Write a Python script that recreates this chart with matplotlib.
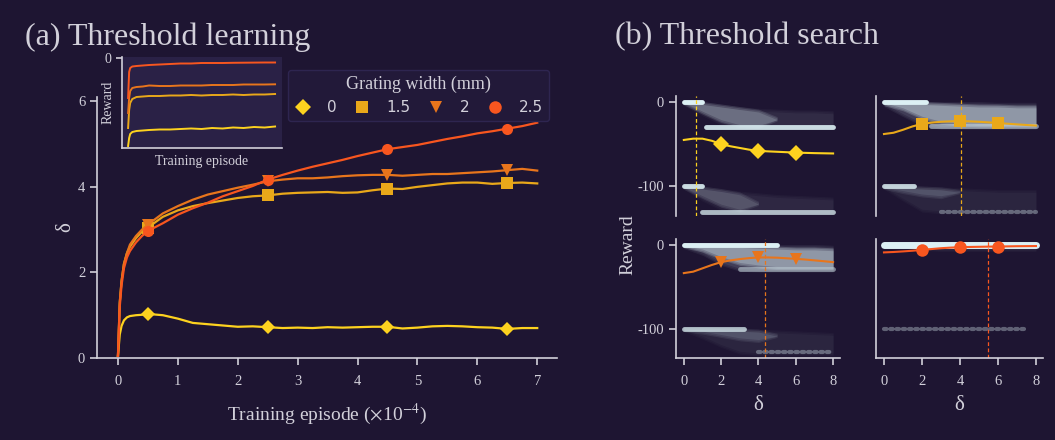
import matplotlib
matplotlib.use("Agg")
import numpy as np
import matplotlib.pyplot as plt
from matplotlib.lines import Line2D

plt.rcParams['font.family'] = ['Liberation Serif', 'DejaVu Serif']
plt.rcParams['mathtext.fontset'] = 'stix'
plt.rcParams['axes.unicode_minus'] = False

BG = '#1e1532'
INSET_BG = '#2a2146'
FG = '#d2d0da'
CLOUD = '#dcf0f4'

WIDTHS = ['0', '1.5', '2', '2.5']
COLORS = ['#fdd21f', '#e9a81a', '#e8751c', '#f8561f']
MARKERS = ['D', 's', 'v', 'o']

# (a) threshold learning: delta vs training episode (x1e4)
EPISODE = [0, 0.03, 0.06, 0.1, 0.15, 0.2, 0.3, 0.4, 0.5, 0.75, 1.0, 1.25, 1.5, 1.75,
           2.0, 2.25, 2.5, 2.75, 3.0, 3.25, 3.5, 3.75, 4.0, 4.25, 4.5, 4.75, 5.0,
           5.25, 5.5, 5.75, 6.0, 6.25, 6.5, 6.75, 7.0]
DELTA_0 = [0.05, 0.55, 0.75, 0.88, 0.95, 0.98, 1.0, 1.01, 1.03, 1.0, 0.92, 0.82, 0.79,
           0.76, 0.73, 0.74, 0.72, 0.70, 0.71, 0.70, 0.72, 0.71, 0.72, 0.73, 0.73, 0.69,
           0.71, 0.74, 0.75, 0.74, 0.72, 0.71, 0.68, 0.70, 0.70]
DELTA_15 = [0.05, 1.3, 1.8, 2.2, 2.45, 2.6, 2.8, 2.95, 3.05, 3.3, 3.45, 3.55, 3.62, 3.68,
            3.74, 3.78, 3.80, 3.84, 3.86, 3.87, 3.88, 3.86, 3.87, 3.92, 3.96, 3.95, 4.0,
            4.04, 4.08, 4.1, 4.1, 4.07, 4.09, 4.1, 4.08]
DELTA_2 = [0.05, 1.3, 1.8, 2.2, 2.45, 2.65, 2.85, 3.0, 3.12, 3.38, 3.55, 3.7, 3.82, 3.9,
           3.98, 4.05, 4.13, 4.17, 4.2, 4.2, 4.22, 4.25, 4.27, 4.28, 4.28, 4.26, 4.28,
           4.3, 4.3, 4.32, 4.34, 4.36, 4.39, 4.42, 4.38]
DELTA_25 = [0.05, 1.2, 1.7, 2.1, 2.35, 2.5, 2.7, 2.85, 2.97, 3.15, 3.35, 3.5, 3.63, 3.78,
            3.9, 4.02, 4.17, 4.28, 4.38, 4.47, 4.55, 4.63, 4.72, 4.8, 4.88, 4.93, 4.98,
            5.05, 5.12, 5.18, 5.25, 5.3, 5.36, 5.42, 5.50]
MAIN_MARK_IDX = [8, 16, 24, 32]

# inset: reward vs training episode
INSET_X = [0, 0.05, 0.1, 0.2, 0.4, 0.7, 1.0, 1.5, 2.0, 2.5, 3.0, 3.5, 4.0, 4.5, 5.0,
           5.5, 6.0, 6.5, 7.0]
INSET_0 = [-88, -80, -76, -74, -73, -72.5, -72, -71.5, -71.5, -71, -70.5, -71, -70,
           -70.5, -69.5, -70, -69, -69.5, -68.5]
INSET_15 = [-70, -52, -45, -41, -39, -38.5, -38, -38, -37.5, -37.5, -37, -37.5, -37,
            -37, -36.5, -37, -36.5, -36.5, -36]
INSET_2 = [-55, -40, -33, -30, -29, -28.5, -27.5, -28, -28, -27.5, -27.5, -27.5, -27,
           -27, -27, -26.5, -26.5, -26.5, -26.3]
INSET_25 = [-40, -14, -10, -8.5, -8, -7.5, -7, -6.5, -6, -5.5, -5.5, -5, -5, -5,
            -4.8, -4.7, -4.6, -4.5, -4.5]

# (b) threshold search: reward vs delta, one panel per grating width
SEARCH_X = [0, 0.5, 1, 1.5, 2, 2.5, 3, 3.5, 4, 4.5, 5, 5.5, 6, 6.5, 7, 7.5, 8]
SEARCH_0 = [-45, -43.5, -43.5, -46, -50, -52.5, -54.5, -56.5, -58, -58.5, -59, -59.5,
            -60, -60.3, -60.6, -60.8, -61]
SEARCH_15 = [-38, -36.5, -33, -29, -26, -24.5, -23.5, -23, -22.6, -23, -23.5, -24.2,
             -25, -25.8, -26.6, -27.3, -28]
SEARCH_2 = [-33.7, -32, -28, -24, -20.6, -18.5, -17, -15.8, -15, -15, -15.3, -16,
            -16.7, -17.5, -18.5, -19.5, -20.6]
SEARCH_25 = [-9, -8.5, -7.8, -7, -6, -5, -4, -3.3, -2.8, -2.5, -2.3, -2.1, -2, -1.8,
             -1.6, -1.5, -1.4]
SEARCH_MARK_IDX = [4, 8, 12]
THRESHOLD = [0.67, 4.07, 4.35, 5.49]

# sampled rewards, drawn as envelopes of the point clouds
# faint outer cloud on a common delta grid
CLOUD_X = [0, 1, 2, 3, 4, 5, 6, 7, 8]
UP_TOP = [[0, -2, -5, -8, -10, -11, -12, -12, -13],
          [0, -1, -2, -2, -2, -2, -3, -3, -3],
          [0, 0, -1, -1, -1, -2, -2, -2, -3],
          [0, 0, 0, 0, 0, 0, 0, 0, 0]]
UP_BOT = [[-2, -14, -25, -30, -30, -30, -30, -30, -30],
          [-3, -15, -26, -30, -30, -30, -30, -30, -30],
          [-2, -10, -22, -29, -30, -30, -30, -30, -30],
          [-2, -3, -4, -5, -5, -5, -5, -5, -5]]
LO_TOP = [[-100, -102, -105, -108, -110, -112, -113, -114, -115],
          [-100, -101, -102, -103, -104, -105, -106, -106, -106],
          [-100, -100, -101, -102, -103, -104, -105, -106, -107],
          [-99, -99, -99, -99, -99, -99, -99, -99, -99]]
LO_BOT = [[-101, -115, -126, -130, -130, -130, -130, -130, -130],
          [-101, -115, -128, -130, -130, -130, -130, -130, -130],
          [-101, -110, -120, -128, -130, -130, -130, -130, -130],
          [-101, -101, -101, -101, -101, -101, -101, -101, -101]]
UP_ALPHA = [0.1, 0.18, 0.18, 0.12]
LO_ALPHA = [0.08, 0.07, 0.07, 0.0]
# dense core of each cloud (tapering to nothing at its end)
CORE_UP_X = [[0, 1, 2, 3, 4, 5], [0, 1, 2, 3, 4, 5, 6, 7, 8], [0, 1, 2, 3, 4, 5, 6, 7, 8], []]
CORE_UP_TOP = [[0, -2, -5, -8, -11, -20], [0, -1, -2, -3, -4, -5, -5, -6, -6],
               [0, 0, -1, -2, -3, -4, -5, -5, -6], []]
CORE_UP_BOT = [[-1, -12, -22, -28, -29, -20], [-2, -8, -18, -24, -26, -27, -27, -27, -27],
               [-1, -6, -15, -22, -25, -27, -27, -27, -27], []]
CORE_UP_ALPHA = [0.35, 0.55, 0.55, 0]
CORE_LO_X = [[0, 1, 2, 3, 4], [0, 1, 2, 3, 4], [0, 1, 2, 3, 4, 5], []]
CORE_LO_TOP = [[-100, -102, -105, -109, -120], [-100, -101, -102, -103, -106],
               [-100, -100, -101, -102, -103, -108], []]
CORE_LO_BOT = [[-101, -112, -122, -128, -120], [-101, -106, -110, -112, -106],
               [-101, -104, -108, -112, -114, -108], []]
# streaks of repeated rewards: (delta start, delta end, reward, alpha, dotted)
STREAKS = [[(0, 1.0, 0, 1.0, 0), (1.2, 8, -30, 0.9, 0), (0, 1.0, -100, 0.9, 0),
            (1.0, 8, -130, 0.75, 0)],
           [(0, 2.2, 0, 1.0, 0), (2.5, 8, -28, 0.55, 0), (0, 1.6, -100, 0.85, 0),
            (3, 8, -130, 0.35, 1)],
           [(0, 5, 0, 1.0, 0), (3, 8, -29, 0.5, 0), (0, 3.2, -100, 0.75, 0),
            (4, 8, -128, 0.35, 1)],
           [(0, 8, 0, 1.0, 0), (0, 7.5, -100, 0.35, 1)]]

W, H = 1055, 440
fig = plt.figure(figsize=(W / 100, H / 100), dpi=100, facecolor=BG)


def style(ax, bg=BG):
    ax.set_facecolor(bg)
    for s in ['top', 'right']:
        ax.spines[s].set_visible(False)
    for s in ['left', 'bottom']:
        ax.spines[s].set_color(FG)
        ax.spines[s].set_linewidth(1.2)
    ax.tick_params(colors=FG, labelcolor=FG, labelsize=10.5, length=5, width=1.2)


def soft_fill(a, x, top, bot, alpha):
    # stack a few widened copies so the cloud edges fade out
    if not x or alpha <= 0:
        return
    top, bot = np.asarray(top, float), np.asarray(bot, float)
    for pad, f in [(2.5, 0.35), (1.0, 0.35), (-1.0, 0.45)]:
        t, b = top + pad, bot - pad
        b = np.minimum(b, t)
        a.fill_between(x, t, b, color=CLOUD, alpha=alpha * f, lw=0)


# ---- (a) main axes
ax = fig.add_axes([97 / W, 1 - 358 / H, (557 - 97) / W, (358 - 97) / H])
style(ax)
ax.set_xlim(-0.35, 7.33)
ax.set_ylim(0, 6.1)
ax.set_xticks(range(8))
ax.set_yticks([0, 2, 4, 6])
ax.tick_params(axis='x', pad=7)
ax.set_xlabel(r'Training episode ($\times$10$^{-4}$)', color=FG, fontsize=14, labelpad=10)
ax.set_ylabel('δ', color=FG, fontsize=15, labelpad=2)

series = [DELTA_0, DELTA_15, DELTA_2, DELTA_25]
for vals, c, m in zip(series, COLORS, MARKERS):
    ax.plot(EPISODE, vals, color=c, lw=1.6, marker=m, markevery=MAIN_MARK_IDX,
            markersize=8 if m != 'D' else 7.5, markeredgewidth=0)

handles = [Line2D([], [], ls='none', marker=m, color=c, markersize=9 if m != 'D' else 8,
                  markeredgewidth=0) for c, m in zip(COLORS, MARKERS)]
leg = fig.legend(handles, WIDTHS, loc='upper left', bbox_to_anchor=(288 / W, 1 - 70 / H),
                 borderaxespad=0, ncol=4, frameon=True, facecolor='#221939',
                 edgecolor='#2e2550', title='Grating width (mm)', title_fontsize=13,
                 prop={'family': 'DejaVu Sans', 'size': 11}, labelcolor=FG,
                 handlelength=1.2, handletextpad=1.0, columnspacing=1.05, borderpad=0.35)
leg.get_title().set_color(FG)
leg.get_frame().set_alpha(1)

# inset
ins = fig.add_axes([122 / W, 1 - 148 / H, (282 - 122) / W, (148 - 57) / H])
style(ins, INSET_BG)
ins.set_xlim(-0.29, 7.33)
ins.set_ylim(-90, 1)
ins.set_xticks([])
ins.set_yticks([0])
ins.tick_params(labelsize=10, length=4)
ins.set_xlabel('Training episode', color=FG, fontsize=10, labelpad=5)
ins.set_ylabel('Reward', color=FG, fontsize=10, labelpad=-7)
for vals, c in zip([INSET_0, INSET_15, INSET_2, INSET_25], COLORS):
    ins.plot(INSET_X, vals, color=c, lw=1.4)

fig.text(25 / W, 1 - 37 / H, '(a) Threshold learning', color=FG, fontsize=23, va='center')
fig.text(615 / W, 1 - 37 / H, '(b) Threshold search', color=FG, fontsize=23, va='center')

# ---- (b) four small panels
boxes = [(676, 840, 96, 216), (876, 1043, 96, 216), (676, 840, 239, 358), (876, 1043, 239, 358)]
curves = [SEARCH_0, SEARCH_15, SEARCH_2, SEARCH_25]
for i, (x0, x1, y0, y1) in enumerate(boxes):
    a = fig.add_axes([x0 / W, 1 - y1 / H, (x1 - x0) / W, (y1 - y0) / H])
    style(a)
    a.set_xlim(-0.42, 8.37)
    a.set_ylim(-135, 7)
    a.set_yticks([0, -100])
    if i >= 2:
        a.set_xticks([0, 2, 4, 6, 8])
        a.tick_params(axis='x', pad=7)
        a.set_xlabel('δ', color=FG, fontsize=15, labelpad=6)
    else:
        a.spines['bottom'].set_visible(False)
        a.set_xticks([])
    if i % 2 == 1:
        a.tick_params(axis='y', length=0, labelleft=False)

    soft_fill(a, CLOUD_X, UP_TOP[i], UP_BOT[i], UP_ALPHA[i])
    soft_fill(a, CLOUD_X, LO_TOP[i], LO_BOT[i], LO_ALPHA[i])
    soft_fill(a, CORE_UP_X[i], CORE_UP_TOP[i], CORE_UP_BOT[i], CORE_UP_ALPHA[i])
    soft_fill(a, CORE_LO_X[i], CORE_LO_TOP[i], CORE_LO_BOT[i], 0.22)
    for xs, xe, yv, al, dotted in STREAKS[i]:
        if dotted:
            a.plot([xs, xe], [yv, yv], color=CLOUD, lw=3, alpha=al,
                   ls=(0, (0.6, 0.9)), dash_capstyle='round')
        else:
            a.plot([xs, xe], [yv, yv], color=CLOUD, lw=3.5 if i != 3 else 5,
                   alpha=al, solid_capstyle='round')

    a.axvline(THRESHOLD[i], color=COLORS[i], lw=0.9, ls=(0, (3, 2)))
    a.plot(SEARCH_X, curves[i], color=COLORS[i], lw=1.5, marker=MARKERS[i],
           markevery=SEARCH_MARK_IDX, markersize=9 if MARKERS[i] != 'D' else 8,
           markeredgewidth=0)

fig.text(628 / W, 1 - 245 / H, 'Reward', color=FG, fontsize=14, rotation=90,
         va='center', ha='center')

fig.savefig('out.png', dpi=100, facecolor=BG)
